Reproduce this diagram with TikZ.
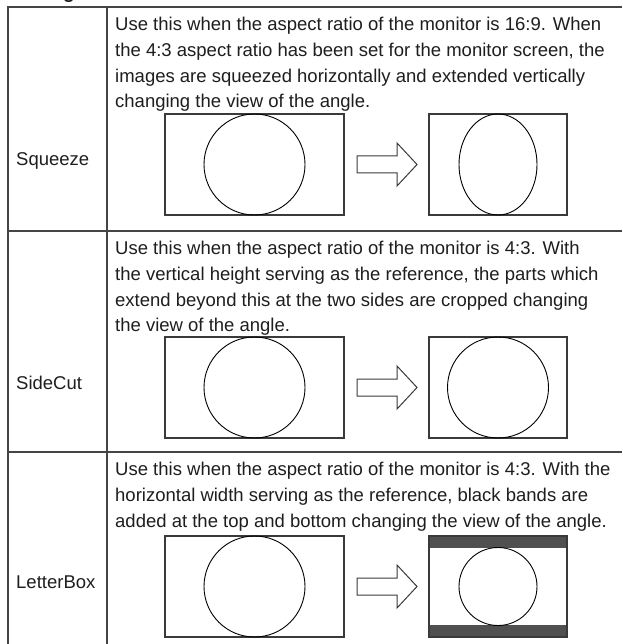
\documentclass[tikz,border=0pt]{standalone}
\usepackage{fontspec}
\setmainfont{Liberation Sans}
\definecolor{tblgray}{HTML}{454545}
\definecolor{framegray}{HTML}{3A3A3A}
\definecolor{bandgray}{HTML}{505050}
\definecolor{txtcol}{HTML}{1E1E1E}
\newcommand\bodyfont{\fontsize{18.5}{26}\selectfont}
\begin{document}
\begin{tikzpicture}[x=1pt,y=-1pt,
  tbl/.style={draw=tblgray,line width=2pt},
  frame/.style={draw=framegray,line width=1.2pt},
  outline/.style={draw=black,line width=0.9pt},
  txt/.style={anchor=base west,inner sep=0pt,font=\bodyfont,text=txtcol},
  arrowshape/.style={draw=framegray,line width=1pt,fill=white,line join=miter}]
\useasboundingbox (0,0) rectangle (622,644);
\fill[white] (0,0) rectangle (622,644);
% cut-off heading fragment
\node[anchor=base west,inner sep=0pt,font=\fontsize{19}{22}\selectfont\bfseries,text=txtcol] (head) at (63,-1) {g};
% table grid
\draw[tbl] (8,644) -- (8,7) -- (622,7);
\draw[tbl] (107,7) -- (107,644);
\draw[tbl] (8,231) -- (622,231);
\draw[tbl] (8,452) -- (622,452);
% labels
\node[txt] (lab1) at (16,166) {Squeeze};
\node[txt] (lab2) at (16,389) {SideCut};
\node[txt] (lab3) at (16,588) {LetterBox};
% row 1 text
\node[txt] (r1a) at (115,30.5) {Use this when the aspect ratio of the monitor is 16:9. When};
\node[txt] (r1b) at (115,56.3) {the 4:3 aspect ratio has been set for the monitor screen, the};
\node[txt] (r1c) at (115,82.1) {images are squeezed horizontally and extended vertically};
\node[txt] (r1d) at (115,107.9) {changing the view of the angle.};
% row 2 text
\node[txt] (r2a) at (115,254.5) {Use this when the aspect ratio of the monitor is 4:3. With};
\node[txt] (r2b) at (115,280.3) {the vertical height serving as the reference, the parts which};
\node[txt] (r2c) at (115,306.1) {extend beyond this at the two sides are cropped changing};
\node[txt] (r2d) at (115,331.9) {the view of the angle.};
% row 3 text
\node[txt] (r3a) at (115,475.5) {Use this when the aspect ratio of the monitor is 4:3. With the};
\node[txt] (r3b) at (115,501.3) {horizontal width serving as the reference, black bands are};
\node[txt] (r3c) at (115,527.1) {added at the top and bottom changing the view of the angle.};
% left pictures and arrows
\foreach \cy in {164.5,387.5,586.5}{
  \draw[frame] (165,{\cy-50.5}) rectangle (344,{\cy+50.5});
  \draw[outline] (254.5,\cy) circle [radius=50.5];
  \draw[arrowshape] (357,{\cy-8.5}) -- (397,{\cy-8.5}) -- (397,{\cy-21.5}) -- (417,\cy)
     -- (397,{\cy+21.5}) -- (397,{\cy+8.5}) -- (357,{\cy+8.5}) -- cycle;
}
% row 1 right: squeezed
\draw[frame] (429,114) rectangle (567,215);
\draw[outline] (498,164.5) ellipse [x radius=39, y radius=50.5];
% row 2 right: side cut
\draw[frame] (429,337) rectangle (567,438);
\draw[outline] (498,387.5) circle [radius=50.5];
% row 3 right: letter box
\fill[bandgray] (429,536) rectangle (567,548);
\fill[bandgray] (429,625) rectangle (567,637);
\draw[frame] (429,536) rectangle (567,637);
\draw[outline] (498,586.5) circle [radius=39];
\end{tikzpicture}
\end{document}
